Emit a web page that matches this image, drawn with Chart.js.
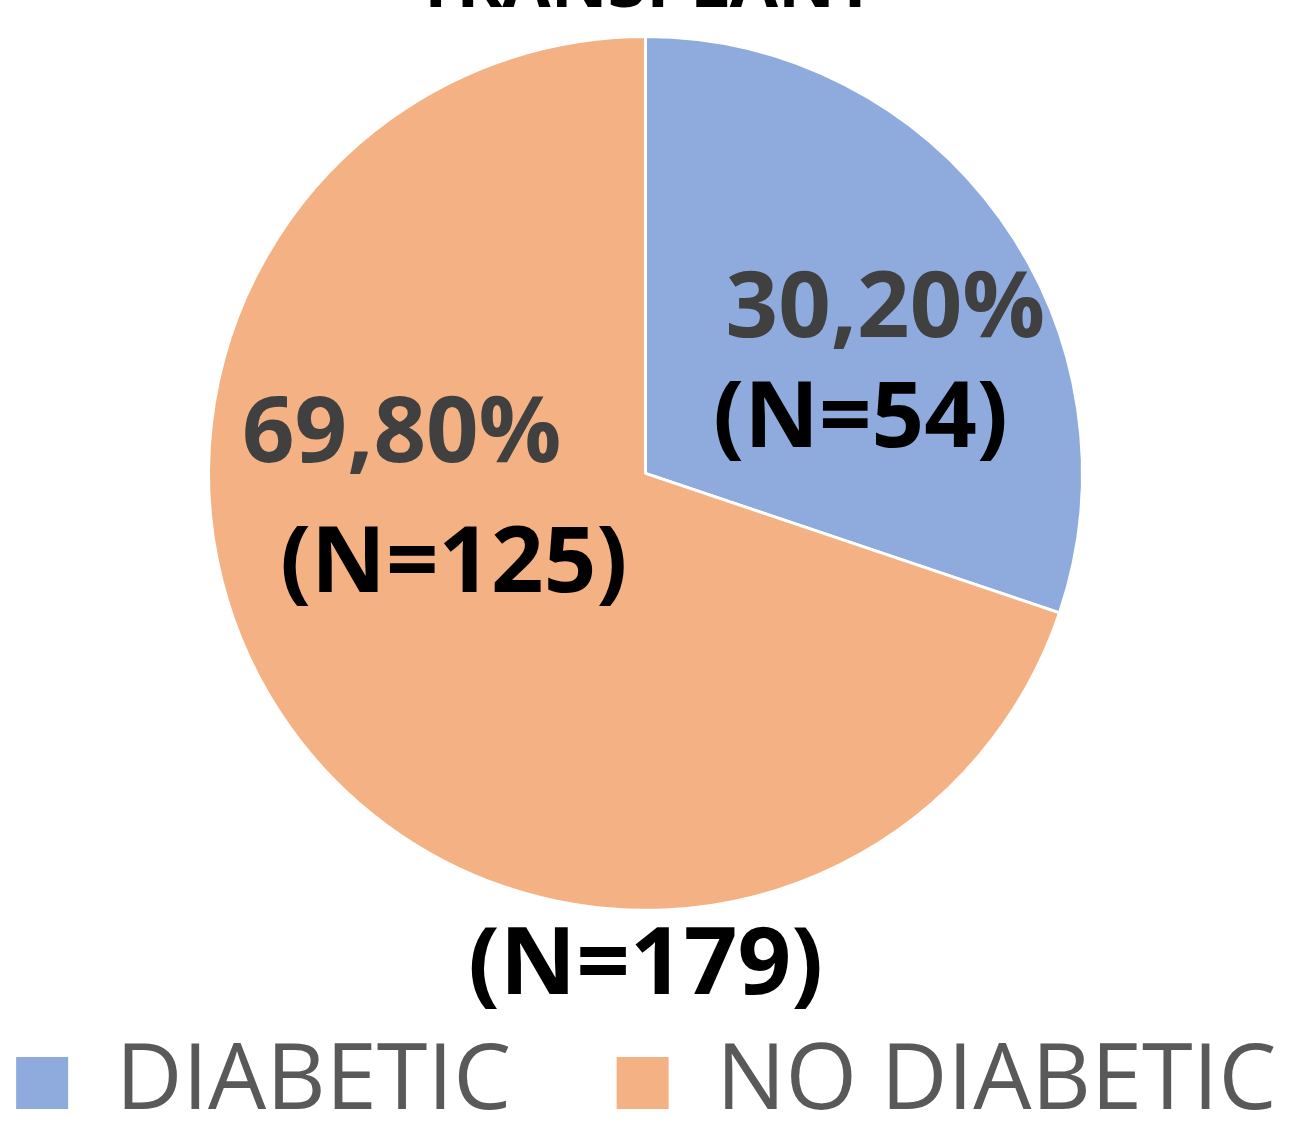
<!DOCTYPE html>
<html>
<head>
<meta charset="utf-8">
<script src="https://cdn.jsdelivr.net/npm/chart.js@4/dist/chart.umd.min.js"></script>
<style>
    html, body { margin: 0; padding: 0; background: #fff; overflow: hidden; width: 1291px; height: 1125px; }
    #wrap { position: absolute; left: -95px; top: -80px; width: 1481px; height: 1219px; }
</style>
</head>
<body>
<div id="wrap"><canvas id="pieChart" width="1481" height="1219"></canvas></div>
<script>
// 차트 데이터
const categories = ['DIABETIC', 'NO DIABETIC'];
const counts = [54, 125];
const percentLabels = ['30,20%', '69,80%'];
const countLabels = ['(N=54)', '(N=125)'];
const totalLabel = '(N=179)';
const chartTitle = 'TRANSPLANT';
const sliceColors = ['#8FAADC', '#F4B183'];

// 라벨 위치 (반지름 기준 비율)
const labelOffsets = [
    { pct: [0.549, -0.373], n: [0.492, -0.121] },
    { pct: [-0.558, -0.085], n: [-0.439, 0.211] }
];

// 조각 안에 라벨 그리기
const sliceLabels = {
    id: 'sliceLabels',
    afterDatasetsDraw(chart) {
        const ctx = chart.ctx;
        const arcs = chart.getDatasetMeta(0).data;
        ctx.save();
        ctx.textAlign = 'center';
        ctx.textBaseline = 'middle';
        arcs.forEach((arc, i) => {
            const r = arc.outerRadius;
            const off = labelOffsets[i];
            ctx.font = 'bold 92px "Open Sans"';
            ctx.fillStyle = '#404040';
            ctx.fillText(percentLabels[i], arc.x + off.pct[0] * r, arc.y + off.pct[1] * r);
            ctx.fillStyle = '#000000';
            ctx.fillText(countLabels[i], arc.x + off.n[0] * r, arc.y + off.n[1] * r);
        });
        ctx.restore();
    }
};

const ctx = document.getElementById('pieChart').getContext('2d');
new Chart(ctx, {
    type: 'pie',
    data: {
        labels: categories,
        datasets: [{
            data: counts,
            backgroundColor: sliceColors,
            borderColor: '#ffffff',
            borderWidth: 3
        }]
    },
    options: {
        responsive: false,
        animation: false,
        layout: { padding: 0 },
        plugins: {
            title: {
                display: true,
                text: chartTitle,
                color: '#000000',
                font: { family: 'Open Sans', size: 70, weight: 'bold', lineHeight: 1.2 },
                padding: { top: 25, bottom: 6 }
            },
            legend: {
                position: 'bottom',
                title: {
                    display: true,
                    text: totalLabel,
                    color: '#000000',
                    font: { family: 'Open Sans', size: 94, weight: 'bold', lineHeight: 0.14 },
                    padding: { top: 8, bottom: 0 }
                },
                labels: {
                    boxWidth: 55,
                    boxHeight: 55,
                    padding: 104,
                    color: '#595959',
                    font: { family: 'Open Sans', size: 92 }
                }
            },
            tooltip: { enabled: false }
        }
    },
    plugins: [sliceLabels]
});
</script>
</body>
</html>
